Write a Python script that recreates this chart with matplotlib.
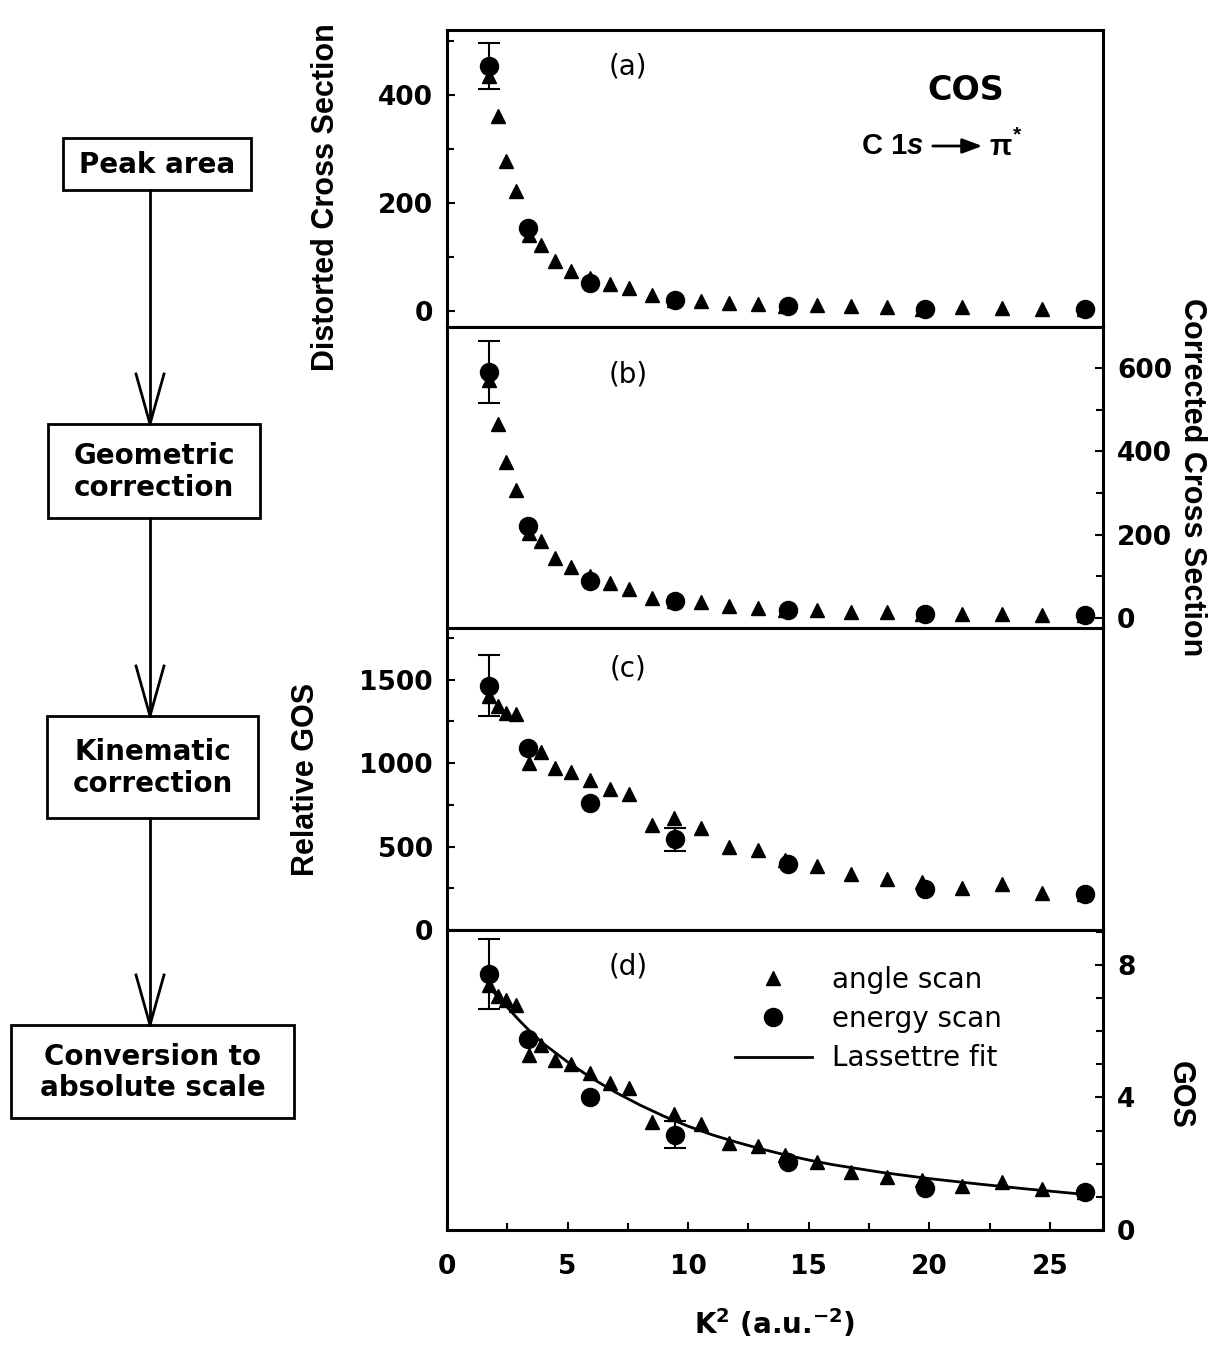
import matplotlib
matplotlib.use('Agg')
import matplotlib.pyplot as plt
from matplotlib.lines import Line2D
from matplotlib.patches import Rectangle, FancyArrowPatch
from matplotlib.ticker import MultipleLocator

W, H = 1216, 1349

# ---------------- data ----------------
k2_angle = [1.73, 2.11, 2.45, 2.88, 3.40, 3.90, 4.49, 5.14, 5.91, 6.75, 7.56, 8.51,
            9.40, 10.52, 11.70, 12.90, 14.01, 15.36, 16.76, 18.23, 19.68, 21.37,
            23.00, 24.67, 26.41]
k2_energy = [1.73, 3.36, 5.91, 9.46, 14.12, 19.80, 26.44]

# (a) distorted cross section
dcs_angle = [435, 361, 277, 221, 140, 121, 93, 74, 60, 50, 42, 29,
             20, 18, 14, 12, 9, 10.5, 8.7, 7.4, 4, 6.2, 5, 3.7, 2.5]
dcs_energy = [453, 153, 51, 20, 8.7, 3.7, 2.5]
dcs_err = [43, 0, 0, 0, 0, 0, 0]

# (b) corrected cross section
ccs_angle = [570, 465, 373, 307, 205, 185, 144, 123, 100, 83, 70, 48,
             40, 38, 28, 24, 18.5, 18.5, 13.6, 13.6, 10.4, 10.4, 10.4, 8, 8]
ccs_energy = [590, 221, 88, 40, 18.5, 10.4, 8]
ccs_err = [75, 0, 0, 0, 0, 0, 0]

# (c) relative GOS
rgos_angle = [1402, 1345, 1298, 1292, 1003, 1066, 973, 949, 899, 843, 817, 628,
              673, 610, 498, 478, 420, 384, 334, 304, 290, 254, 274, 224, 214]
rgos_energy = [1465, 1092, 763, 544, 394, 244, 214]
rgos_err = [181, 0, 0, 70, 0, 0, 0]

# (d) absolute GOS
gos_angle = [7.38, 7.05, 6.95, 6.78, 5.29, 5.59, 5.14, 5.02, 4.74, 4.44, 4.29, 3.25,
             3.50, 3.20, 2.63, 2.53, 2.26, 2.04, 1.76, 1.61, 1.51, 1.34, 1.46, 1.23, 1.16]
gos_energy = [7.72, 5.76, 4.02, 2.87, 2.04, 1.26, 1.16]
gos_err = [1.05, 0, 0, 0.41, 0, 0, 0]

fit_k2 = [1.7, 2.0, 2.5, 3.0, 3.5, 4.0, 5.0, 6.0, 7.0, 8.0, 9.0, 10.0, 11.0, 12.0,
          13.0, 14.0, 15.0, 16.0, 18.0, 20.0, 22.0, 24.0, 26.5]
fit_gos = [7.40, 7.12, 6.72, 6.32, 5.95, 5.62, 5.07, 4.58, 4.15, 3.77, 3.43, 3.13,
           2.87, 2.65, 2.45, 2.27, 2.11, 1.97, 1.74, 1.55, 1.39, 1.24, 1.07]

flow_steps = ["Peak area", "Geometric\ncorrection", "Kinematic\ncorrection",
              "Conversion to\nabsolute scale"]

x_ticks = [0, 5, 10, 15, 20, 25]

# ---------------- figure ----------------
fig = plt.figure(figsize=(W / 100, H / 100), dpi=100)


def fx(px):
    return px / W


def fy(py):
    return 1 - py / H


L, R = 447, 1103
panel_px = [(30, 327), (327, 628), (628, 930), (930, 1230)]
ylims = [(-30, 520), (-24, 698), (0, 1810), (0, 9.05)]
majors = [200, 200, 500, 4]
minors = [100, 100, 250, 1]
sides = ['left', 'right', 'left', 'right']

TICKFONT = dict(family='DejaVu Sans', weight='bold', size=19)

axes = []
for (top, bot), yl, mj, mn, side in zip(panel_px, ylims, majors, minors, sides):
    ax = fig.add_axes([fx(L), fy(bot), (R - L) / W, (bot - top) / H])
    ax.set_xlim(0, 27.2)
    ax.set_ylim(*yl)
    for s in ax.spines.values():
        s.set_linewidth(2.2)
    ax.yaxis.set_major_locator(MultipleLocator(mj))
    ax.yaxis.set_minor_locator(MultipleLocator(mn))
    ax.xaxis.set_major_locator(MultipleLocator(5))
    ax.xaxis.set_minor_locator(MultipleLocator(2.5))
    ax.tick_params(axis='both', which='major', direction='in', length=6, width=1.5, pad=10)
    ax.tick_params(axis='both', which='minor', direction='in', length=5, width=1.5)
    ax.tick_params(axis='x', which='both', bottom=False, top=False, labelbottom=False)
    if side == 'left':
        ax.tick_params(axis='y', which='both', left=True, right=False,
                       labelleft=True, labelright=False)
    else:
        ax.tick_params(axis='y', which='both', left=False, right=True,
                       labelleft=False, labelright=True)
    axes.append(ax)

axd = axes[3]
axd.tick_params(axis='x', which='both', bottom=True, labelbottom=True, pad=17)
axd.set_xticks(x_ticks)
axd.set_xticklabels([str(t) for t in x_ticks])
for lab in axd.get_xticklabels():
    lab.set_fontproperties(TICKFONT)
for ax in axes:
    for lab in ax.get_yticklabels():
        lab.set_fontproperties(TICKFONT)

series = [(dcs_angle, dcs_energy, dcs_err), (ccs_angle, ccs_energy, ccs_err),
          (rgos_angle, rgos_energy, rgos_err), (gos_angle, gos_energy, gos_err)]

TRI_MS = 9.5
CIR_MS = 13
for ax, (ya, ye, err) in zip(axes, series):
    ax.plot(k2_angle, ya, linestyle='none', marker='^', ms=TRI_MS, color='black',
            zorder=3, clip_on=False)
    ax.plot(k2_energy, ye, linestyle='none', marker='o', ms=CIR_MS, color='black',
            zorder=4, clip_on=False)
    ex = [k for k, e in zip(k2_energy, err) if e > 0]
    ey = [v for v, e in zip(ye, err) if e > 0]
    ee = [e for e in err if e > 0]
    ax.errorbar(ex, ey, yerr=ee, fmt='none', ecolor='black', elinewidth=1.5,
                capsize=8, capthick=1.5, zorder=4)

axd.plot(fit_k2, fit_gos, color='black', lw=2.0, zorder=2)

# legend
handles = [Line2D([], [], ls='none', marker='^', ms=TRI_MS, color='black'),
           Line2D([], [], ls='none', marker='o', ms=CIR_MS, color='black'),
           Line2D([], [], color='black', lw=2.0)]
axd.legend(handles, ['angle scan', 'energy scan', 'Lassettre fit'],
           loc='upper left', bbox_to_anchor=(fx(735), fy(966)),
           bbox_transform=fig.transFigure, frameon=False,
           prop=dict(family='DejaVu Sans', size=20), handlelength=2.77,
           handletextpad=0.72, labelspacing=0.4, borderpad=0, borderaxespad=0)

# panel labels
for lab, py in zip(['(a)', '(b)', '(c)', '(d)'], [66, 375, 668, 966]):
    fig.text(fx(628), fy(py), lab, ha='center', va='center',
             family='DejaVu Sans', size=20)

# COS annotation
fig.text(fx(966), fy(90), 'COS', ha='center', va='center',
         family='DejaVu Sans', weight='bold', size=24)
fig.text(fx(862), fy(146), 'C 1', ha='left', va='center',
         family='Liberation Sans', weight='bold', size=21)
fig.text(fx(907), fy(146), 's', ha='left', va='center',
         family='Liberation Sans', weight='bold', style='italic', size=21)
fig.text(fx(989), fy(147), 'π', ha='left', va='center',
         family='Liberation Sans', weight='bold', size=21)
fig.text(fx(1013), fy(135), '*', ha='left', va='center',
         family='Liberation Sans', weight='bold', size=15)
fig.add_artist(FancyArrowPatch(
    (fx(930), fy(146)), (fx(985), fy(146)), transform=fig.transFigure,
    arrowstyle='-|>,head_length=12,head_width=4.5', lw=2, color='black',
    mutation_scale=1))

# axis labels
YLFONT = dict(family='Liberation Sans', weight='bold', size=22)
fig.text(fx(326), fy(197), 'Distorted Cross Section', rotation=90,
         ha='center', va='center', **YLFONT)
fig.text(fx(306), fy(779), 'Relative GOS', rotation=90,
         ha='center', va='center', **YLFONT)
fig.text(fx(1192), fy(477), 'Corrected Cross Section', rotation=270,
         ha='center', va='center', **YLFONT)
fig.text(fx(1180), fy(1095), 'GOS', rotation=270,
         ha='center', va='center', **YLFONT)
fig.text(fx(775), fy(1324), r'K$^{\mathbf{2}}$ (a.u.$^{\mathbf{-2}}$)',
         ha='center', va='center', family='DejaVu Sans', weight='bold', size=20)

# ---------------- flowchart ----------------
fa = fig.add_axes([0, 0, 1, 1], zorder=-1)
fa.set_xlim(0, W)
fa.set_ylim(H, 0)
fa.axis('off')

boxes = [(63, 138, 251, 190), (48, 424, 260, 518), (47, 716, 258, 818),
         (11, 1025, 294, 1118)]
for (x0, y0, x1, y1), txt in zip(boxes, flow_steps):
    fa.add_patch(Rectangle((x0, y0), x1 - x0, y1 - y0, fill=False,
                           lw=2.0, ec='black'))
    fa.text((x0 + x1) / 2, (y0 + y1) / 2 + 1, txt, ha='center', va='center',
            family='DejaVu Sans', weight='bold', size=20, linespacing=1.15)

ax_x = 150
for (b0, b1) in zip(boxes[:-1], boxes[1:]):
    ystart = b0[3]
    ytip = b1[1]
    fa.plot([ax_x, ax_x], [ystart, ytip], color='black', lw=2.0)
    fa.plot([ax_x - 14, ax_x, ax_x + 14], [ytip - 50, ytip, ytip - 50],
            color='black', lw=2.0, solid_joinstyle='miter')

fig.savefig('out.png', dpi=100)
